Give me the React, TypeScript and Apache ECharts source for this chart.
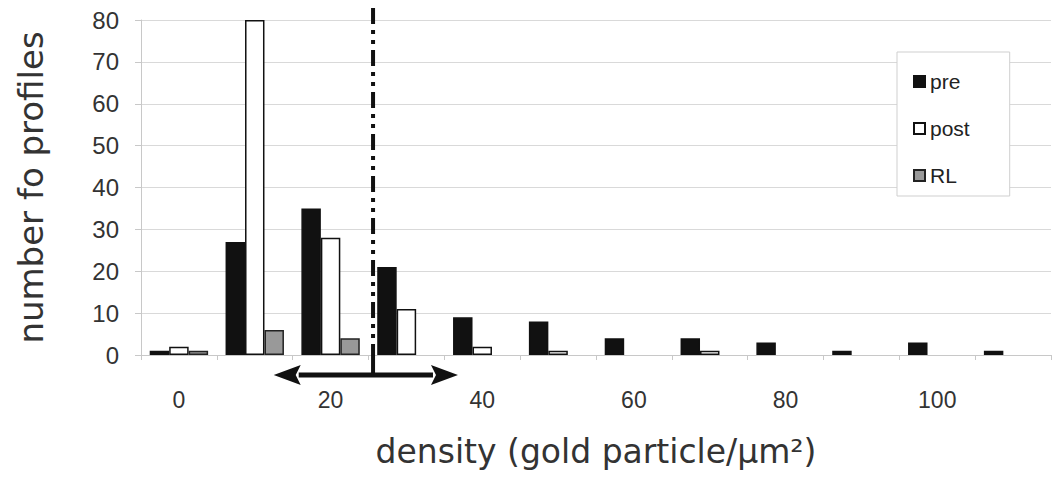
import React, { useEffect, useRef } from "react";
import * as echarts from "echarts";

const categories = ["0", "10", "20", "30", "40", "50", "60", "70", "80", "90", "100", "110"];
const preValues = [1, 27, 35, 21, 9, 8, 4, 4, 3, 1, 3, 1];
const postValues = [2, 80, 28, 11, 2, 1, 0, 1, 0, 0, 0, 0];
const rlValues = [1, 6, 4, 0, 0, 0, 0, 0, 0, 0, 0, 0];
const yTicks = [0, 10, 20, 30, 40, 50, 60, 70, 80];
const meanDensity = 25.6;
const rangeLow = 12.5;
const rangeHigh = 36.8;

const hideZero = (arr: number[]) => arr.map((v) => (v === 0 ? null : v));

export default function App() {
  const ref = useRef<HTMLDivElement>(null);
  useEffect(() => {
    if (!ref.current) return;
    const chart = echarts.init(ref.current, null, { renderer: "svg" });
    const border = { borderColor: "#111", borderWidth: 1.5 };
    const option: any = {
      animation: false,
      backgroundColor: "#fff",
      grid: { left: 141, right: 6, top: 20, bottom: 126, containLabel: false },
      legend: {
        data: ["pre", "post", "RL"],
        orient: "vertical",
        left: 897,
        top: 52,
        icon: "rect",
        itemWidth: 11,
        itemHeight: 11,
        itemGap: 26,
        backgroundColor: "#fff",
        borderColor: "#cfcfcf",
        borderWidth: 1,
        padding: [19, 40, 10, 16],
        textStyle: { fontFamily: "Liberation Sans", fontSize: 21, color: "#222" },
      },
      xAxis: [
        {
          type: "category",
          data: categories,
          name: "density (gold particle/μm²)",
          nameLocation: "middle",
          nameGap: 80,
          nameTextStyle: { fontFamily: "DejaVu Sans", fontSize: 33, color: "#333" },
          axisLine: { lineStyle: { color: "#c8c8c8", width: 1 } },
          axisTick: { show: true, interval: 0, length: 5, lineStyle: { color: "#c8c8c8" } },
          axisLabel: {
            interval: 1,
            margin: 33,
            fontFamily: "Liberation Sans",
            fontSize: 23,
            color: "#333",
          },
        },
        {
          type: "value",
          min: -5,
          max: 115,
          show: false,
          splitLine: { show: false },
        },
      ],
      yAxis: {
        type: "value",
        min: 0,
        max: 80,
        interval: 10,
        name: "number fo profiles",
        nameLocation: "middle",
        nameGap: 93,
        nameTextStyle: { fontFamily: "DejaVu Sans", fontSize: 34, color: "#333" },
        axisLine: { show: true, onZero: false, lineStyle: { color: "#c8c8c8", width: 1 } },
        axisTick: { show: true, length: 6, lineStyle: { color: "#c8c8c8" } },
        splitLine: { lineStyle: { color: "#d9d9d9", width: 1 } },
        axisLabel: {
          margin: 22,
          fontFamily: "Liberation Sans",
          fontSize: 24,
          color: "#333",
          formatter: (v: number) => (yTicks.includes(v) ? String(v) : ""),
        },
      },
      series: [
        {
          name: "pre",
          type: "bar",
          data: hideZero(preValues),
          barGap: "0%",
          barCategoryGap: "23%",
          itemStyle: { color: "#111", ...border },
        },
        {
          name: "post",
          type: "bar",
          data: hideZero(postValues),
          barGap: "0%",
          barCategoryGap: "23%",
          itemStyle: { color: "#fff", ...border },
        },
        {
          name: "RL",
          type: "bar",
          data: hideZero(rlValues),
          barGap: "0%",
          barCategoryGap: "23%",
          itemStyle: { color: "#999", borderColor: "#222", borderWidth: 1.5 },
        },
      ],
    };
    chart.setOption(option);

    const xm = chart.convertToPixel({ xAxisIndex: 1 } as any, meanDensity) as number;
    const xl = chart.convertToPixel({ xAxisIndex: 1 } as any, rangeLow) as number;
    const xh = chart.convertToPixel({ xAxisIndex: 1 } as any, rangeHigh) as number;
    const y0 = chart.convertToPixel({ yAxisIndex: 0 } as any, 0) as number;
    const yTop = chart.convertToPixel({ yAxisIndex: 0 } as any, 80) as number;
    const ya = y0 + 20;
    const head = 27;
    const hh = 10;
    chart.setOption({
      graphic: [
        {
          type: "line",
          shape: { x1: xm, y1: yTop - 12, x2: xm, y2: y0 - 6 },
          style: { stroke: "#111", lineWidth: 4, lineDash: [16, 6, 4, 6, 4, 6] },
          z: 100,
        },
        {
          type: "line",
          shape: { x1: xm, y1: y0 - 6, x2: xm, y2: ya },
          style: { stroke: "#111", lineWidth: 4 },
          z: 100,
        },
        {
          type: "line",
          shape: { x1: xl + head - 2, y1: ya, x2: xh - head + 2, y2: ya },
          style: { stroke: "#111", lineWidth: 5 },
          z: 100,
        },
        {
          type: "polygon",
          shape: { points: [[xl, ya], [xl + head, ya - hh], [xl + head - 5, ya], [xl + head, ya + hh]] },
          style: { fill: "#111" },
          z: 100,
        },
        {
          type: "polygon",
          shape: { points: [[xh, ya], [xh - head, ya - hh], [xh - head + 5, ya], [xh - head, ya + hh]] },
          style: { fill: "#111" },
          z: 100,
        },
      ],
    });
    return () => chart.dispose();
  }, []);
  return (
    <div
      ref={ref}
      style={{ position: "fixed", left: 0, top: 0, width: 1057, height: 481 }}
    />
  );
}
